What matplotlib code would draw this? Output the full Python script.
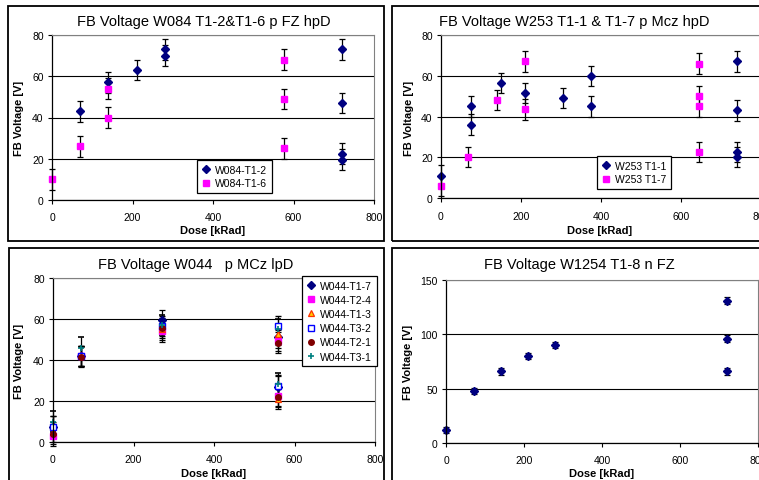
import numpy as np
import matplotlib
matplotlib.use("Agg")
import matplotlib.pyplot as plt
from matplotlib.patches import Rectangle
from matplotlib.lines import Line2D

plt.rcParams['font.family'] = ['Liberation Sans', 'DejaVu Sans']

W, H = 759, 481

# W084 T1-2 / T1-6, p FZ hpD
w084_t12_dose = [70, 140, 210, 280, 280, 720, 720, 720, 720]
w084_t12_fb = [43, 57, 63, 73, 70, 73, 47, 22.5, 19.5]
w084_t16_dose = [0, 70, 140, 140, 577, 577, 577]
w084_t16_fb = [10, 26, 54, 40, 68, 49, 25]

# W253 T1-1 / T1-7, p Mcz hpD
w253_t11_dose = [0, 75, 75, 150, 210, 305, 375, 375, 740, 740, 740, 740]
w253_t11_fb = [11, 45, 36, 56.5, 51.5, 49, 60, 45, 67, 43, 22.5, 20]
w253_t17_dose = [0, 68, 140, 210, 210, 645, 645, 645, 645]
w253_t17_fb = [6, 20, 48, 67, 43.5, 66, 50, 45, 22.5]

# W044 p MCz lpD, six structures
w044_dose = [0, 70, 270, 560, 560]
w044_labels = ['W044-T1-7', 'W044-T2-4', 'W044-T1-3', 'W044-T3-2', 'W044-T2-1', 'W044-T3-1']
w044_fb = [
    [7.5, 42, 59.5, 51, 27],
    [3, 42, 54, 49.5, 22.5],
    [5, 42, 55, 52.5, 21],
    [7.5, 42, 56.5, 56.5, 27.5],
    [4, 41.5, 55.5, 48.5, 22],
    [10, 46, 57, 55, 28.5],
]

# W1254 T1-8 n FZ
w1254_dose = [0, 73, 140, 210, 280, 720, 720, 720]
w1254_fb = [12, 48, 66, 80, 90, 131, 96, 66]

fb_err = 5.0
w1254_err = 3.0

NAVY = '#000080'
PINK = '#FF00FF'
styles = [
    dict(marker='D', ms=3.6, mfc=NAVY, mec=NAVY),
    dict(marker='s', ms=4.0, mfc=PINK, mec=PINK),
    dict(marker='^', ms=4.2, mfc='#FFCC00', mec='#FF3300', mew=0.9),
    dict(marker='s', ms=4.0, mfc='white', mec='#0000FF', mew=1.0),
    dict(marker='o', ms=4.0, mfc='#800000', mec='#800000'),
    dict(marker='+', ms=5.0, mfc='#008080', mec='#008080', mew=1.2),
]

fig = plt.figure(figsize=(W / 100, H / 100), dpi=100)
fig.patch.set_facecolor('white')


def add_px_axes(l, t, r, b):
    return fig.add_axes([l / W, 1 - b / H, (r - l) / W, (b - t) / H])


def frame(l, t, r, b):
    fig.patches.append(Rectangle((l / W, 1 - b / H), (r - l) / W, (b - t) / H,
                                 transform=fig.transFigure, fill=False,
                                 edgecolor='black', lw=1.3, zorder=0))


def fig_text(x, y, s, **kw):
    fig.text(x / W, 1 - y / H, s, ha='center', va='center', **kw)


def setup(ax, ymax, ystep):
    ax.set_xlim(0, 800)
    ax.set_ylim(0, ymax)
    ax.set_xticks(np.arange(0, 801, 200))
    ax.set_yticks(np.arange(0, ymax + 1, ystep))
    ax.tick_params(direction='out', length=3, width=0.8, labelsize=7.5, pad=3,
                   colors='black')
    ax.tick_params(axis='x', pad=6)
    for s in ['top', 'right']:
        ax.spines[s].set_color('#808080')
        ax.spines[s].set_linewidth(0.8)
    for s in ['left', 'bottom']:
        ax.spines[s].set_color('black')
        ax.spines[s].set_linewidth(0.9)
    ax.yaxis.grid(True, color='black', lw=0.8)
    ax.set_axisbelow(True)


def series(ax, x, y, err, style):
    # points at dose 0 sit on the axis, so don't clip them
    eb = ax.errorbar(x, y, yerr=err, ls='none', ecolor='black', elinewidth=0.9,
                     capsize=2.5, capthick=0.9, **style)
    for a in eb.lines[1] + eb.lines[2]:
        a.set_clip_on(False)
    eb.lines[0].set_clip_on(False)
    return eb


def marker_legend(ax, idx, labels, l, t, spacing=0.35):
    # legend shows only the markers, no error bars
    handles = [Line2D([], [], ls='none', **styles[i]) for i in idx]
    lg = ax.legend(handles, labels, loc='upper left',
                   bbox_to_anchor=(l / W, 1 - t / H), bbox_transform=fig.transFigure,
                   fontsize=7.5, fancybox=False, edgecolor='black', framealpha=1,
                   handlelength=0.8, handletextpad=0.5, borderpad=0.45,
                   labelspacing=spacing, borderaxespad=0)
    lg.get_frame().set_linewidth(0.9)
    return lg


# panel borders
frame(8, 7, 384, 242)
frame(392, 7, 770, 242)
frame(9, 249, 384, 490)
frame(392, 249, 770, 490)

# --- top left: W084
ax1 = add_px_axes(52, 36, 374, 201)
setup(ax1, 80, 20)
series(ax1, w084_t12_dose, w084_t12_fb, fb_err, styles[0])
series(ax1, w084_t16_dose, w084_t16_fb, fb_err, styles[1])
marker_legend(ax1, [0, 1], ['W084-T1-2', 'W084-T1-6'], 197, 161)
fig_text(204, 22, 'FB Voltage W084 T1-2&T1-6 p FZ hpD', fontsize=10.5)
fig_text(19, 118, 'FB Voltage [V]', fontsize=8, fontweight='bold', rotation=90)
fig_text(213, 231, 'Dose [kRad]', fontsize=8, fontweight='bold')

# --- top right: W253
ax2 = add_px_axes(441, 36, 761, 199)
setup(ax2, 80, 20)
series(ax2, w253_t11_dose, w253_t11_fb, fb_err, styles[0])
series(ax2, w253_t17_dose, w253_t17_fb, fb_err, styles[1])
marker_legend(ax2, [0, 1], ['W253 T1-1', 'W253 T1-7'], 597, 157)
fig_text(574, 22, 'FB Voltage W253 T1-1 & T1-7 p Mcz hpD', fontsize=10.5)
fig_text(409, 118, 'FB Voltage [V]', fontsize=8, fontweight='bold', rotation=90)
fig_text(600, 231, 'Dose [kRad]', fontsize=8, fontweight='bold')

# --- bottom left: W044
ax3 = add_px_axes(53, 279, 375, 443)
setup(ax3, 80, 20)
for vals, st in zip(w044_fb, styles):
    series(ax3, w044_dose, vals, fb_err, st)
marker_legend(ax3, range(6), w044_labels, 302, 277, spacing=0.4)
fig_text(196, 265, 'FB Voltage W044   p MCz lpD', fontsize=10.5)
fig_text(19, 361, 'FB Voltage [V]', fontsize=8, fontweight='bold', rotation=90)
fig_text(214, 474, 'Dose [kRad]', fontsize=8, fontweight='bold')

# --- bottom right: W1254
ax4 = add_px_axes(446, 281, 758, 444)
setup(ax4, 150, 50)
series(ax4, w1254_dose, w1254_fb, w1254_err, styles[0])
fig_text(579, 265, 'FB Voltage W1254 T1-8 n FZ', fontsize=10.5)
fig_text(408, 362, 'FB Voltage [V]', fontsize=8, fontweight='bold', rotation=90)
fig_text(602, 474, 'Dose [kRad]', fontsize=8, fontweight='bold')

fig.savefig('out.png', dpi=100)
